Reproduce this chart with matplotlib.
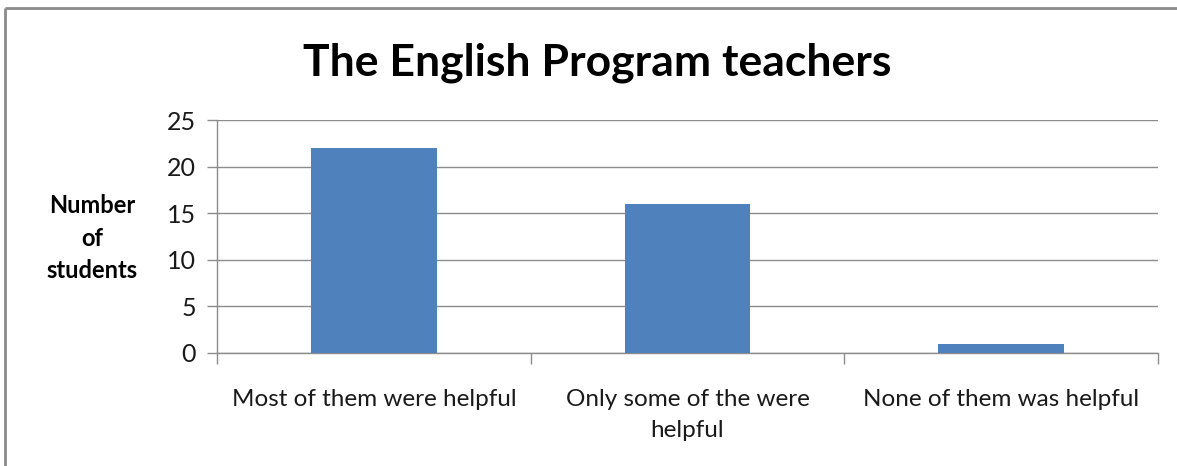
import matplotlib.pyplot as plt
from matplotlib.lines import Line2D

# dados
categorias = ["Most of them were helpful", "Only some of the were\nhelpful", "None of them was helpful"]
valores = [22, 16, 1]
yticks = [0, 5, 10, 15, 20, 25]

plt.rcParams['font.family'] = ['Lato', 'DejaVu Sans']

fig = plt.figure(figsize=(11.77, 4.66), dpi=100)
ax = fig.add_axes([217 / 1177, 113 / 466, 941 / 1177, 233 / 466])

cinza = '#8c8c8c'
x = list(range(len(categorias)))
ax.bar(x, valores, width=0.4, color='#4f81bd', zorder=3)

ax.set_xlim(-0.5, 2.5)
ax.set_ylim(0, 25)
ax.set_yticks(yticks)
ax.yaxis.grid(True, color=cinza, linewidth=1)
ax.set_axisbelow(True)

# divisórias entre categorias (ticks maiores) e rótulos nos ticks menores
ax.set_xticks([-0.5, 0.5, 1.5, 2.5])
ax.set_xticklabels([])
ax.set_xticks(x, minor=True)
ax.set_xticklabels(categorias, minor=True, fontsize=17.5, color='#1a1a1a', linespacing=1.6)
ax.tick_params(axis='x', which='major', length=8, color=cinza, width=1)
ax.tick_params(axis='x', which='minor', length=0, pad=26)
ax.tick_params(axis='y', length=7, color=cinza, width=1, labelsize=18, labelcolor='#1a1a1a', pad=8)

for s in ['top', 'right']:
    ax.spines[s].set_visible(False)
for s in ['left', 'bottom']:
    ax.spines[s].set_color(cinza)
    ax.spines[s].set_linewidth(1)
ax.spines['left'].set_bounds(0, 25)

fig.text(92 / 1177, 1 - 238 / 466, "Number\nof\nstudents", ha='center', va='center',
         fontsize=17, fontweight='bold', linespacing=1.5)

fig.text(597 / 1177, 1 - 63 / 466, "The English Program teachers", ha='center', va='center',
         fontsize=32, fontweight='bold')

# moldura cinza da figura original
fig.add_artist(Line2D([5 / 1177, 1.0], [1 - 8 / 466, 1 - 8 / 466], transform=fig.transFigure,
                      color='#8a8a8a', linewidth=2, solid_capstyle='butt'))
fig.add_artist(Line2D([5 / 1177, 5 / 1177], [0, 1 - 8 / 466], transform=fig.transFigure,
                      color='#8a8a8a', linewidth=2, solid_capstyle='butt'))

plt.savefig("out.png", dpi=100)
